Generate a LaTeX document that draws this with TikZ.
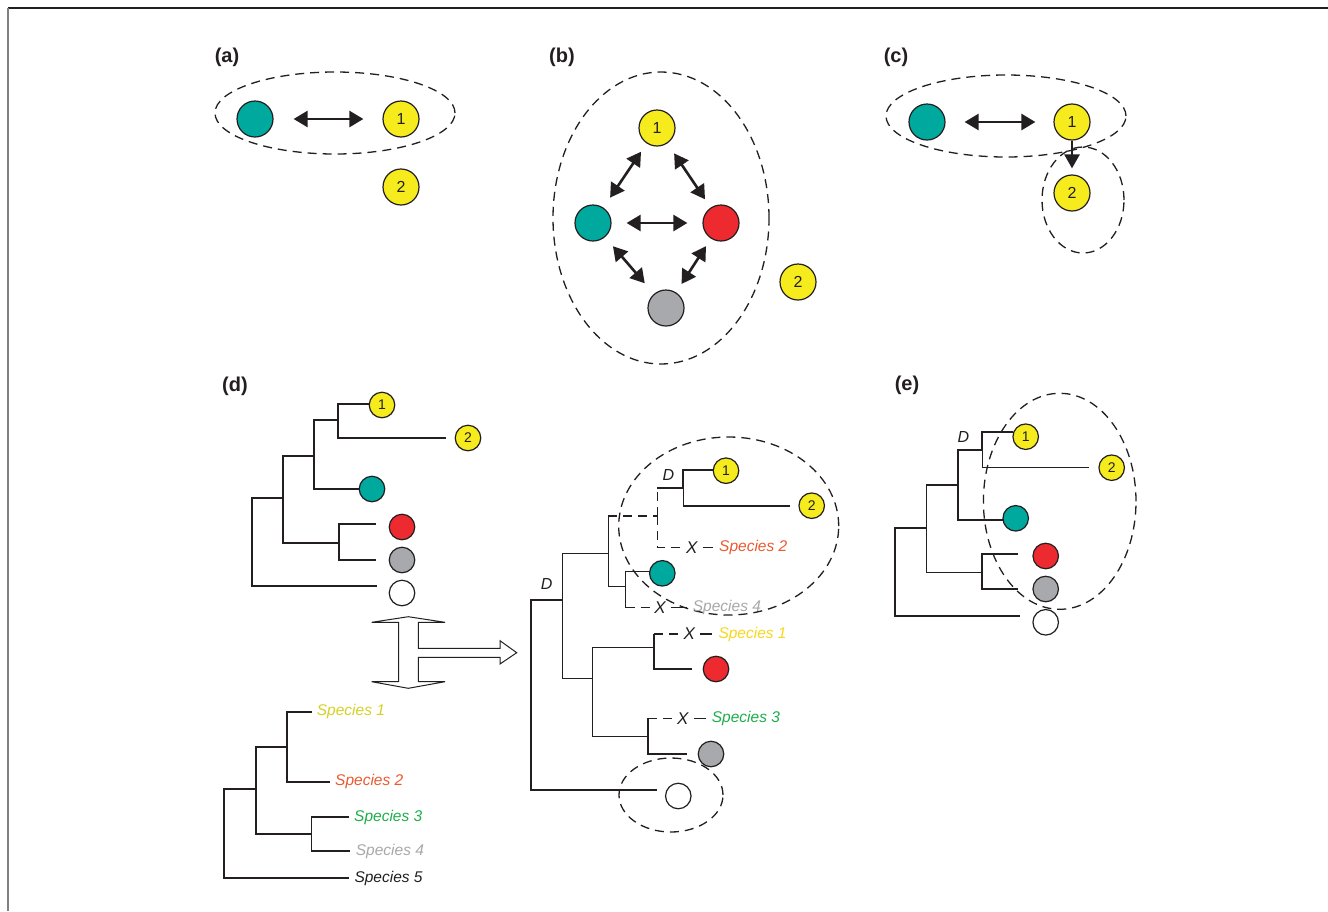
\documentclass[tikz,border=0pt]{standalone}
\usepackage{fontspec}
\setmainfont{Liberation Sans}
\usetikzlibrary{arrows.meta}
\definecolor{ink}{HTML}{231F20}
\definecolor{cteal}{HTML}{00A99D}
\definecolor{cyel}{HTML}{F6EB1C}
\definecolor{cred}{HTML}{EC2A2F}
\definecolor{cgrey}{HTML}{A7A9AC}
\definecolor{spA}{HTML}{D6D026}
\definecolor{spAb}{HTML}{F8D81C}
\definecolor{spB}{HTML}{EA5A2F}
\definecolor{spC}{HTML}{1DAE4B}
\definecolor{spD}{HTML}{A6A8AB}
\begin{document}
\begin{tikzpicture}[x=1pt,y=-1pt,
  big/.style={circle, draw=ink, line width=1.2pt, minimum size=36pt, inner sep=0pt, text=ink, font=\fontsize{16}{16}\selectfont},
  sm/.style={circle, draw=ink, line width=1.2pt, minimum size=25.5pt, inner sep=0pt, text=ink, font=\fontsize{14}{14}\selectfont},
  fteal/.style={fill=cteal}, fyel/.style={fill=cyel}, fred/.style={fill=cred},
  fgrey/.style={fill=cgrey}, fwhite/.style={fill=white},
  panel/.style={text=ink, font=\fontsize{20}{20}\selectfont\bfseries},
  dbl/.style={{Triangle[length=14pt,width=16pt]}-{Triangle[length=14pt,width=16pt]}, line width=2.6pt, draw=ink},
  sgl/.style={-{Triangle[length=14pt,width=15pt]}, line width=2.6pt, draw=ink},
  dashell/.style={draw=ink, line width=1.3pt, dash pattern=on 9pt off 6pt},
  br/.style={draw=ink, line width=2.2pt},
  tbr/.style={draw=ink, line width=1.5pt},
  dbr/.style={draw=ink, line width=1.5pt, dash pattern=on 9pt off 6pt},
  postx/.style={draw=ink, line width=1.5pt, shorten <=4pt, shorten >=6pt},
  sp/.style={font=\fontsize{15.5}{15.5}\selectfont\itshape, anchor=west, inner sep=0pt},
  xm/.style={font=\fontsize{17}{17}\selectfont\itshape, text=ink, inner sep=1pt},
  dl/.style={font=\fontsize{16}{16}\selectfont\itshape, text=ink}
]
\useasboundingbox (0,0) rectangle (1328,911);
\fill[white] (0,0) rectangle (1328,911);
% frame
\draw[ink, line width=1.5pt] (8,8) -- (1328,8);
\draw[gray, line width=1.5pt] (8,8) -- (8,911);

% ---------- (a)
\node[panel] (la) at (227,57) {(a)};
\draw[dashell] (335,113) ellipse [x radius=120pt, y radius=41pt];
\node[big,fteal] (at) at (255,119) {};
\node[big,fyel] (a1) at (401,119) {1};
\node[big,fyel] (a2) at (401,187) {2};
\draw[dbl, shorten <=20pt, shorten >=19pt] (at) -- (a1);

% ---------- (b)
\node[panel] (lb) at (562,57) {(b)};
\draw[dashell] (661,218) ellipse [x radius=108pt, y radius=146pt];
\node[big,fyel] (b1) at (657,128) {1};
\node[big,fteal] (bt) at (593,223) {};
\node[big,fred] (br) at (721,223) {};
\node[big,fgrey] (bg) at (666,308) {};
\node[big,fyel] (b2) at (798,282) {2};
\draw[dbl, shorten <=15pt, shorten >=15pt] (bt) -- (br);
\draw[dbl, shorten <=10pt, shorten >=12pt] (b1) -- (bt);
\draw[dbl, shorten <=12pt, shorten >=10pt] (b1) -- (br);
\draw[dbl, shorten <=12pt, shorten >=14pt] (bt) -- (bg);
\draw[dbl, shorten <=9pt, shorten >=10pt] (br) -- (bg);

% ---------- (c)
\node[panel] (lc) at (896,57) {(c)};
\draw[dashell] (1006,116) ellipse [x radius=120pt, y radius=41pt];
\draw[dashell] (1083,200) ellipse [x radius=41pt, y radius=53pt];
\node[big,fteal] (ct) at (927,122) {};
\node[big,fyel] (c1) at (1072,122) {1};
\node[big,fyel] (c2) at (1072,193) {2};
\draw[dbl, shorten <=19pt, shorten >=18pt] (ct) -- (c1);
\draw[sgl, shorten >=6pt] (c1) -- (c2);

% ---------- (d) top-left tree
\node[panel] (ld) at (235,386) {(d)};
\node[sm,fyel] (d1) at (382,405) {1};
\node[sm,fyel] (d2) at (468,438) {2};
\node[sm,fteal] (dt) at (372,489) {};
\node[sm,fred] (dr) at (402,527) {};
\node[sm,fgrey] (dg) at (402,560) {};
\node[sm,fwhite] (dw) at (402,593) {};
\coordinate (dR) at (252,542);
\coordinate (dC) at (283,498);
\coordinate (dB) at (314,456);
\coordinate (dA) at (338,420);
\coordinate (dE) at (339,543);
\coordinate (d1e) at (369.5,404);
\coordinate (d2e) at (446,438);
\coordinate (dte) at (359.5,489);
\coordinate (dre) at (376,524);
\coordinate (dge) at (376,560);
\coordinate (dwe) at (377,586);
\draw[br] (dR) |- (dC);
\draw[br] (dR) |- (dwe);
\draw[br] (dC) |- (dB);
\draw[br] (dC) |- (dE);
\draw[br] (dB) |- (dA);
\draw[br] (dB) |- (dte);
\draw[br] (dA) |- (d1e);
\draw[tbr] (dA) |- (d2e);
\draw[br] (dE) |- (dre);
\draw[br] (dE) |- (dge);

% block arrow
\draw[ink, line width=1pt, fill=white, line join=miter]
  (408.3,616.7) -- (445,622.3) -- (418.3,622.3) -- (418.3,648.3) -- (500,648.3)
  -- (500,640.7) -- (516.7,652.7) -- (500,664) -- (500,657.3) -- (418.3,657.3)
  -- (418.3,681.7) -- (445,681.7) -- (408.3,688.3) -- (371.7,681.7) -- (398.7,681.7)
  -- (398.7,622.3) -- (371.7,622.3) -- cycle;

% bottom-left species tree
\node[sp, text=spA] (s1) at (316.7,711.7) {Species 1};
\node[sp, text=spB] (s2) at (335,781.7) {Species 2};
\node[sp, text=spC] (s3) at (354,817) {Species 3};
\node[sp, text=spD] (s4) at (355.7,851) {Species 4};
\node[sp, text=ink] (s5) at (354.3,878) {Species 5};
\coordinate (sR) at (224.3,833);
\coordinate (sRR) at (256,789.3);
\coordinate (sP) at (287.3,747.3);
\coordinate (sQ) at (311.7,834);
\draw[br] (sR) |- (sRR);
\draw[br] (sR) |- ([xshift=-5pt]s5.west);
\draw[br] (sRR) |- (sP);
\draw[br] (sRR) |- (sQ);
\draw[br] (sP) |- ([xshift=-5pt]s1.west);
\draw[br] (sP) |- ([xshift=-5pt]s2.west);
\draw[tbr] (sQ) |- ([xshift=-5pt]s3.west);
\draw[tbr] (sQ) |- ([xshift=-6pt]s4.west);

% ---------- middle reconciled tree
\node[dl] (mD) at (546.7,584.3) {D};
\node[dl] (mD2) at (668.3,475) {D};
\draw[dashell] (728.7,526) ellipse [x radius=110pt, y radius=89pt];
\draw[dashell] (671,795) ellipse [x radius=52pt, y radius=37pt];
\node[sm,fyel] (m1) at (726,470.7) {1};
\node[sm,fyel] (m2) at (811.7,505.7) {2};
\node[sm,fteal] (mt) at (662.3,573.3) {};
\node[sm,fred] (mr) at (716,669) {};
\node[sm,fgrey] (mg) at (711,754) {};
\node[sm,fwhite] (mw) at (678.3,796) {};
\coordinate (mR) at (531,695);
\coordinate (mS) at (562.3,600);
\coordinate (mT) at (608.3,553.3);
\coordinate (mU) at (657.3,516);
\coordinate (mV) at (683.3,488.3);
\coordinate (mW) at (625.7,586.7);
\coordinate (mY) at (592.3,678.3);
\coordinate (mZ) at (654,647.7);
\coordinate (mA) at (648.3,736.7);
\coordinate (m1e) at (713.3,470);
\coordinate (m2e) at (790,506);
\coordinate (mte) at (649.5,571.7);
\coordinate (mre) at (691.7,669.3);
\coordinate (mge) at (686.7,754);
\coordinate (mwe) at (656.7,790);
\node[xm] (x2) at (691.7,547.7) {X};
\node[sp, text=spB] (m2s) at (719,547.7) {Species 2};
\node[xm] (x4) at (660,607.7) {X};
\node[sp, text=spD] (m4s) at (692.7,607.7) {Species 4};
\node[xm] (x1) at (689.3,634) {X};
\node[sp, text=spAb] (m1s) at (718.3,634) {Species 1};
\node[xm] (x3) at (682.7,718.3) {X};
\node[sp, text=spC] (m3s) at (711.7,718.3) {Species 3};
\draw[tbr] (mR) |- (mS);
\draw[br] (mR) |- (mwe);
\draw[tbr] (mS) |- (mT);
\draw[tbr] (mS) |- (mY);
\draw[tbr] (mT) -- (mT |- mU);
\draw[dbr] (mT |- mU) -- (mU);
\draw[tbr] (mT) |- (mW);
\draw[dbr] (mU) -- (mU |- mV);
\draw[br] (mU |- mV) -- (mV);
\draw[dbr] (mU) |- (x2);
\draw[postx] (x2) -- (m2s);
\draw[br] (mV) |- (m1e);
\draw[tbr] (mV) |- (m2e);
\draw[tbr] (mW) |- (mte);
\draw[tbr] (mW) -- (mW |- x4);
\draw[dbr] (mW |- x4) -- (x4);
\draw[postx] (x4) -- (m4s);
\draw[tbr] (mY) |- (mZ);
\draw[tbr] (mY) |- (mA);
\draw[br] (mZ) -- (mZ |- x1);
\draw[dbr] (mZ |- x1) -- (x1);
\draw[postx] (x1) -- (m1s);
\draw[br] (mZ) |- (mre);
\draw[br] (mA) -- (mA |- x3);
\draw[dbr] (mA |- x3) -- (x3);
\draw[postx] (x3) -- (m3s);
\draw[br] (mA) |- (mge);

% ---------- (e)
\node[panel] (le) at (907,385) {(e)};
\node[dl] (eD) at (963.3,436.7) {D};
\node[sm,fyel] (e1) at (1025.7,436.7) {1};
\node[sm,fyel] (e2) at (1111.7,467.7) {2};
\node[sm,fteal] (et) at (1015.7,518.3) {};
\node[sm,fred] (er) at (1045.7,556) {};
\node[sm,fgrey] (eg) at (1045.7,589) {};
\node[sm,fwhite] (ew) at (1045.7,622.3) {};
\coordinate (eR) at (895,572);
\coordinate (eC) at (926.7,528.3);
\coordinate (eB) at (958.3,485);
\coordinate (eA) at (982.3,450);
\coordinate (eE) at (982.3,572.3);
\coordinate (e1e) at (1013.3,432.3);
\coordinate (e2e) at (1089.3,467.7);
\coordinate (ete) at (1002.7,520);
\coordinate (ere) at (1018.3,554.3);
\coordinate (ege) at (1018.3,589.3);
\coordinate (ewe) at (1020,616);
\draw[br] (eR) |- (eC);
\draw[br] (eR) |- (ewe);
\draw[tbr] (eC) |- (eB);
\draw[tbr] (eC) |- (eE);
\draw[br] (eB) |- (eA);
\draw[br] (eB) |- (ete);
\draw[br] (eA) |- (e1e);
\draw[tbr] (eA) |- (e2e);
\draw[br] (eE) |- (ere);
\draw[br] (eE) |- (ege);
\draw[dashell] (1059.7,501.3) ellipse [x radius=76.3pt, y radius=108pt];
\end{tikzpicture}
\end{document}
